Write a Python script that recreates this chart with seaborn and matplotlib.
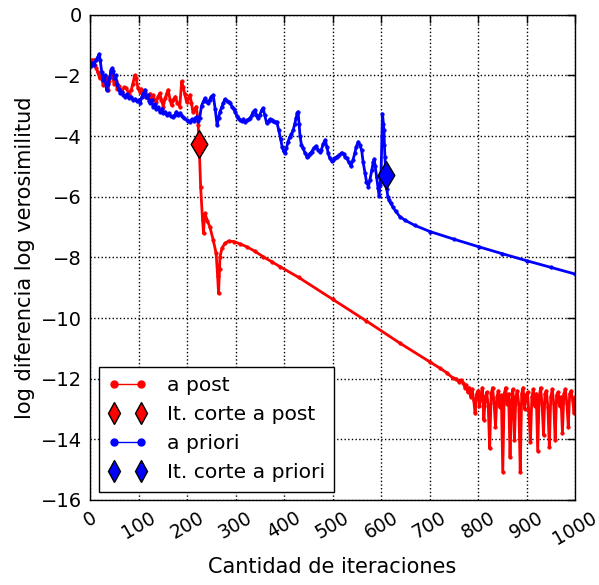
import numpy as np
import pandas as pd
import matplotlib
matplotlib.use("Agg")
import matplotlib.pyplot as plt
from matplotlib.lines import Line2D
import seaborn as sns

# ---------------- data ----------------
post_iter = [1, 4, 8, 10, 13, 16, 20, 23, 27, 30, 34, 37, 40, 43, 45, 47, 50, 53, 56, 60,
             65, 70, 75, 80, 85, 88, 92, 95, 99, 103, 106, 109, 113, 116, 120, 124, 127, 130,
             133, 137, 140, 144, 147, 151, 155, 158, 161, 165, 168, 172, 176, 180, 185, 189,
             192, 195, 199, 203, 206, 209, 212, 216, 219, 222, 223, 225, 228, 232, 234, 236,
             237, 242, 247, 254, 260, 263, 265, 267, 268, 272, 278, 286, 296, 310, 323, 340,
             357, 375, 392, 430, 500, 570, 639, 700, 722, 735, 749, 755, 760, 765,
             770, 773, 776, 779, 782, 785, 788, 791, 794, 797, 800, 803, 806, 809, 812, 815,
             818, 821, 824, 827, 830, 833, 836, 839, 842, 845, 848, 851, 854, 857, 860, 863,
             866, 869, 872, 875, 878, 881, 884, 887, 890, 893, 896, 899, 902, 905, 908, 911,
             914, 917, 920, 923, 926, 929, 932, 935, 938, 941, 944, 947, 950, 953, 956, 959,
             962, 965, 968, 971, 974, 977, 980, 983, 986, 989, 992, 995, 998, 1000]
post_val = [-1.6, -1.5, -1.49, -1.65, -1.77, -1.9, -2.10, -2.0, -2.32, -2.15, -2.04, -2.48,
            -2.2, -1.82, -1.9, -2.10, -2.3, -2.2, -2.45, -2.35, -2.54, -2.4, -2.43, -2.6, -2.48,
            -2.3, -2.0, -2.1, -2.43, -2.55, -2.45, -2.65, -2.55, -2.7, -2.76, -2.6, -2.75,
            -2.65, -2.8, -2.87, -2.7, -2.59, -2.8, -3.03, -2.75, -2.6, -2.48, -2.8, -2.98,
            -2.8, -2.70, -2.9, -3.03, -2.2, -2.37, -2.6, -2.87, -2.75, -2.65, -2.9, -3.20,
            -3.1, -3.03, -3.4, -3.64, -4.26, -5.67, -6.77, -7.21, -6.6, -6.55, -6.8, -6.99,
            -7.43, -7.87, -8.6, -9.19, -8.4, -7.98, -7.7, -7.54, -7.46, -7.48, -7.56, -7.65,
            -7.80, -7.98, -8.15, -8.31, -8.66, -9.38, -10.1, -10.83, -11.44, -11.66, -11.8,
            -11.99, -12.0, -12.1, -12.05,
            -12.15, -12.3, -12.2, -12.45, -12.3, -12.6, -12.35, -12.7, -13.14, -12.5, -12.4,
            -12.9, -12.55, -12.3, -13.36, -12.6, -12.45, -12.9, -14.30, -12.5, -12.3, -12.8,
            -13.58, -12.6, -12.4, -12.95, -12.55, -15.07, -12.5, -12.3, -12.85, -12.5, -14.59,
            -12.7, -12.35, -14.02, -12.6, -12.4, -12.85, -15.07, -12.5, -12.3, -13.0, -12.55,
            -12.45, -13.2, -14.08, -12.6, -12.35, -12.9, -12.5, -14.38, -12.6, -12.3, -12.85,
            -13.86, -12.5, -12.4, -12.95, -14.26, -12.6, -12.35, -12.8, -14.02, -12.55, -12.45,
            -12.9, -12.6, -13.80, -12.5, -12.35, -12.8, -13.58, -12.5, -12.4, -12.7, -13.14,
            -12.6]

priori_iter = [1, 5, 8, 12, 16, 19, 21, 24, 27, 30, 34, 37, 40, 43, 45, 48, 50, 53, 56, 59,
               62, 66, 69, 72, 76, 80, 84, 89, 93, 97, 100, 103, 107, 110, 113, 116, 119, 122,
               124, 127, 130, 134, 137, 140, 144, 148, 151, 155, 158, 162, 166, 171, 175, 178,
               182, 186, 190, 194, 199, 203, 206, 210, 214, 217, 220, 223, 226, 230, 234, 237,
               240, 243, 247, 250, 254, 258, 262, 265, 268, 272, 275, 278, 282, 286, 289, 293,
               296, 299, 303, 306, 309, 313, 316, 320, 324, 327, 330, 334, 337, 340, 343, 346,
               350, 354, 357, 360, 364, 368, 371, 375, 378, 381, 385, 389, 393, 396, 399, 402,
               405, 408, 412, 415, 419, 422, 425, 427, 429, 431, 433, 436, 439, 443, 447, 450,
               453, 457, 461, 466, 470, 474, 477, 481, 485, 488, 491, 494, 498, 501, 505, 509,
               514, 519, 523, 526, 529, 533, 538, 542, 546, 549, 553, 556, 560, 563, 567, 570,
               574, 577, 581, 584, 586, 588, 591, 594, 596, 598, 600, 602, 603, 605, 606, 607,
               608, 610, 612, 614, 617, 620, 625, 630, 639, 650, 670, 701, 750, 801, 850, 900,
               950, 1000]
priori_val = [-1.7, -1.6, -1.66, -1.5, -1.4, -1.3, -1.5, -1.88, -2.15, -2.0, -2.48, -2.3,
              -2.1, -1.9, -1.77, -1.85, -2.1, -2.0, -2.3, -2.45, -2.58, -2.55, -2.65, -2.70,
              -2.62, -2.75, -2.7, -2.81, -2.78, -2.85, -2.82, -2.91, -2.7, -2.6, -2.48, -2.7,
              -2.65, -2.85, -2.91, -2.8, -3.04, -2.95, -3.1, -3.05, -3.20, -3.1, -3.25, -3.2,
              -3.31, -3.25, -3.35, -3.36, -3.3, -3.2, -3.3, -3.24, -3.35, -3.42, -3.47, -3.5,
              -3.53, -3.45, -3.5, -3.42, -3.36, -3.5, -3.4, -3.0, -2.85, -2.76, -2.85, -2.91,
              -2.8, -2.7, -2.65, -3.1, -3.64, -3.4, -3.2, -3.03, -2.9, -2.79, -2.85, -2.88,
              -2.91, -3.05, -3.1, -3.20, -3.35, -3.4, -3.47, -3.5, -3.45, -3.53, -3.48, -3.45,
              -3.41, -3.3, -3.2, -3.14, -3.3, -3.41, -3.3, -3.15, -3.08, -3.3, -3.57, -3.5,
              -3.45, -3.47, -3.5, -3.55, -3.53, -3.8, -4.1, -4.35, -4.5, -4.56, -4.4, -4.2,
              -4.02, -3.95, -3.80, -3.6, -3.4, -3.25, -3.20, -3.6, -4.0, -4.3, -4.39, -4.55,
              -4.68, -4.65, -4.58, -4.52, -4.4, -4.33, -4.45, -4.52, -4.45, -4.25, -4.13, -4.35,
              -4.56, -4.72, -4.82, -4.8, -4.72, -4.68, -4.62, -4.55, -4.6, -4.68, -4.72, -4.85,
              -4.99, -4.8, -4.56, -4.35, -4.19, -4.3, -4.46, -4.85, -5.22, -5.5, -5.67, -5.45,
              -5.12, -4.85, -4.76, -5.0, -5.34, -5.7, -5.98, -5.6, -5.22, -4.0, -3.27, -3.6,
              -3.80, -4.3, -4.68, -5.29, -5.75, -6.00, -6.12, -6.22, -6.35, -6.48, -6.66, -6.78,
              -6.95, -7.15, -7.40, -7.65, -7.88, -8.11, -8.33, -8.55]

cut_post_iter = [225]
cut_post_val = [-4.26]
cut_priori_iter = [610]
cut_priori_val = [-5.29]

legend_labels = ["a post", "It. corte a post", "a priori", "It. corte a priori"]
x_label = "Cantidad de iteraciones"
y_label = "log diferencia log verosimilitud"

# ---------------- style ----------------
sns.set_style("white")
plt.rcParams["font.family"] = ["DejaVu Sans"]
for k in ["text.color", "axes.labelcolor", "xtick.color", "ytick.color"]:
    plt.rcParams[k] = "black"
plt.rcParams["xtick.direction"] = "in"
plt.rcParams["ytick.direction"] = "in"

fig = plt.figure(figsize=(5.99, 5.85), dpi=100)
ax = fig.add_axes([0.1503, 0.1453, 0.8097, 0.8296])

sns.lineplot(x=post_iter, y=post_val, ax=ax, sort=False, estimator=None,
             color="red", lw=2.0, marker=".", markersize=5, markeredgecolor="red",
             markeredgewidth=0.5)
sns.lineplot(x=priori_iter, y=priori_val, ax=ax, sort=False, estimator=None,
             color="blue", lw=2.0, marker=".", markersize=5, markeredgecolor="blue",
             markeredgewidth=0.5)
sns.scatterplot(x=cut_post_iter, y=cut_post_val, ax=ax, marker="d", s=200,
                color="red", edgecolor="black", linewidth=1, zorder=5)
sns.scatterplot(x=cut_priori_iter, y=cut_priori_val, ax=ax, marker="d", s=200,
                color="blue", edgecolor="black", linewidth=1, zorder=5)

ax.set_xlim(0, 1000)
ax.set_ylim(-16, 0)
ax.set_xticks(np.arange(0, 1001, 100))
ax.set_yticks(np.arange(-16, 1, 2))
ax.tick_params(axis="both", which="major", labelsize=14, direction="in", length=6,
               width=1, top=True, right=True, pad=6, color="black")
ax.tick_params(axis="x", labelsize=13.5)
plt.setp(ax.get_xticklabels(), rotation=30)
for s in ax.spines.values():
    s.set_edgecolor("black")
    s.set_linewidth(1)
ax.grid(True, color="black", linestyle=":", linewidth=1)
ax.set_xlabel(x_label, fontsize=15, labelpad=6)
ax.set_ylabel(y_label, fontsize=15, labelpad=4)

handles = [
    Line2D([], [], color="red", lw=1, marker="o", ms=5, markeredgecolor="red"),
    Line2D([], [], color="red", lw=0, marker="d", ms=11, markeredgecolor="black"),
    Line2D([], [], color="blue", lw=1, marker="o", ms=5, markeredgecolor="blue"),
    Line2D([], [], color="blue", lw=0, marker="d", ms=11, markeredgecolor="black"),
]
leg = ax.legend(handles=handles, labels=legend_labels, numpoints=2, loc="lower left",
                bbox_to_anchor=(0.0186, 0.0175), borderaxespad=0, fontsize=14.6,
                fancybox=False, framealpha=1, edgecolor="black", handlelength=1.9,
                handletextpad=1.0, labelspacing=0.5, borderpad=0.45)
leg.get_frame().set_linewidth(1)

fig.savefig("out.png", dpi=100)
